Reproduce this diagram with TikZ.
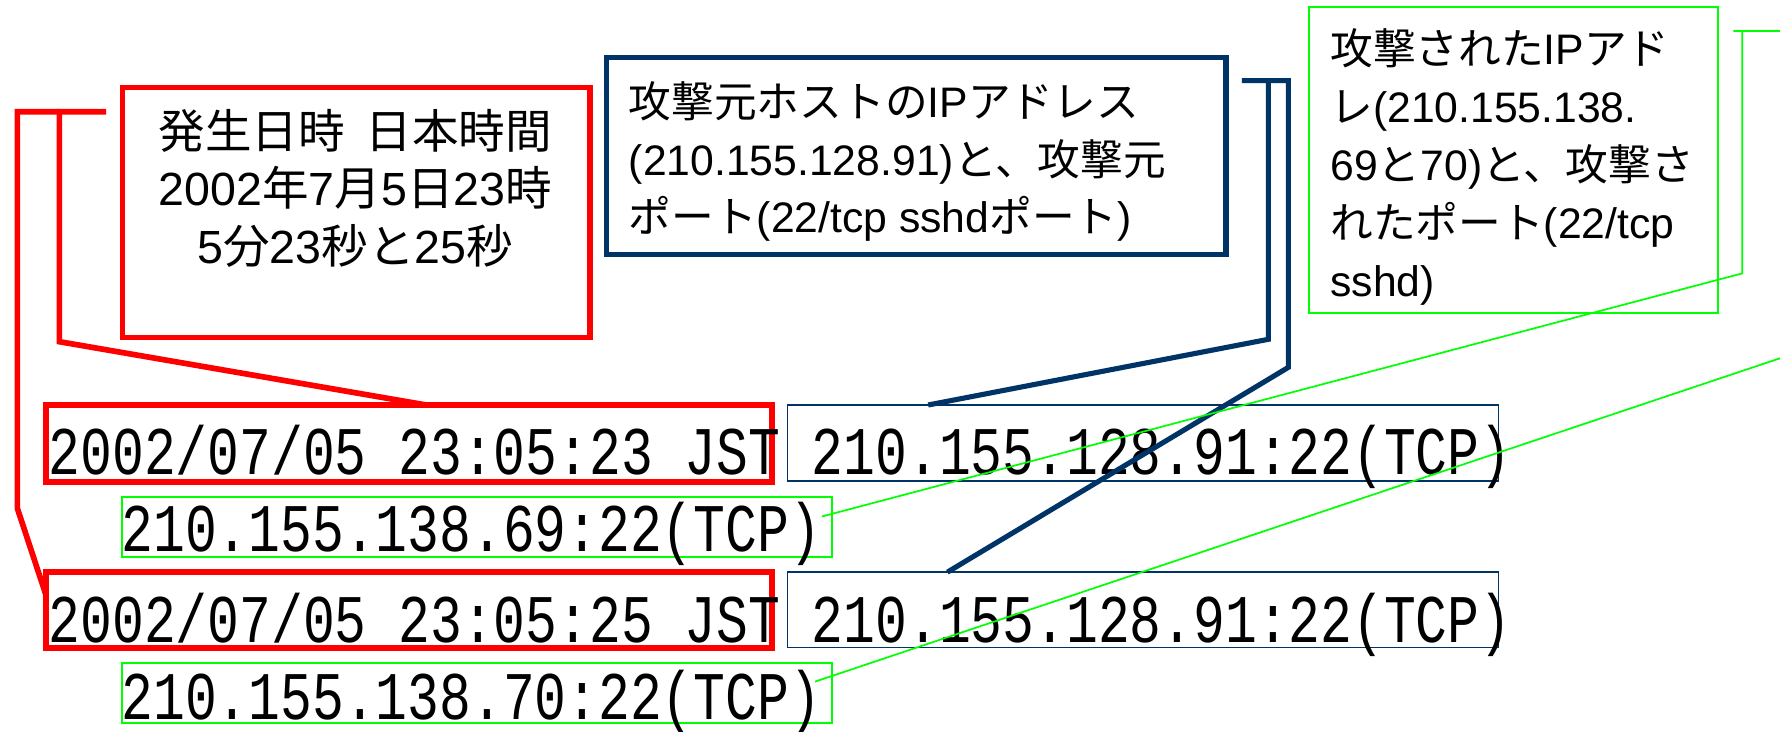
\documentclass[tikz,border=0pt]{standalone}
\usepackage{fontspec}
\usetikzlibrary{calc}
\setmainfont{Liberation Sans}
\newfontfamily\cjk{Noto Sans CJK JP}
\newfontfamily\logfont[FakeStretch=0.778]{Liberation Mono}
\newcommand{\J}[1]{{\cjk #1}}
\definecolor{lnred}{RGB}{255,0,0}
\definecolor{lnnavy}{RGB}{0,51,102}
\definecolor{lngreen}{RGB}{0,255,0}
\begin{document}
\begin{tikzpicture}[x=1pt,y=-1pt,
  every node/.style={inner sep=0pt, outer sep=0pt},
  redframe/.style={draw=lnred, line width=5pt},
  navyframe/.style={draw=lnnavy, line width=4.5pt},
  greenframe/.style={draw=lngreen, line width=1.8pt},
  navythin/.style={draw=lnnavy, line width=1.3pt},
  greenthin/.style={draw=lngreen, line width=1.5pt},
  redlink/.style={draw=lnred, line width=5pt},
  navylink/.style={draw=lnnavy, line width=4.5pt},
  greenlink/.style={draw=lngreen, line width=1.5pt},
  logtext/.style={font=\logfont\fontsize{60}{60}\selectfont, anchor=base west},
  timetext/.style={font=\fontsize{41}{50}\selectfont, anchor=base},
  labeltext/.style={font=\fontsize{37.6}{50}\selectfont, anchor=base west},
]
\useasboundingbox (0,0) rectangle (1568,644);
\fill[white] (0,0) rectangle (1568,644);

% label boxes
\node[redframe, minimum width=412, minimum height=220] (timebox) at (314,187.2) {};
\node[navyframe, minimum width=546, minimum height=174] (srcbox) at (807,137.5) {};
\node[greenframe, minimum width=360, minimum height=269.5] (dstbox) at (1333,141.25) {};

% label texts
\node[timetext] (time1) at (313,130.5) {\J{発生日時}\hspace{0.45em}\J{日本時間}};
\node[timetext] (time2) at (313,181.2) {2002\J{年}7\J{月}5\J{日}23\J{時}};
\node[timetext] (time3) at (313,232) {5\J{分}23\J{秒と}25\J{秒}};

\node[labeltext] (src1) at (554,103.5) {\J{攻撃元ホストの}IP\J{アドレス}};
\node[labeltext] (src2) at (554,154.2) {(210.155.128.91)\J{と、攻撃元}};
\node[labeltext] (src3) at (554,205) {\J{ポート}(22/tcp sshd\J{ポート})};

\node[labeltext] (dst1) at (1172,56.5) {\J{攻撃された}IP\J{アド}};
\node[labeltext] (dst2) at (1172,107.7) {\J{レ}(210.155.138.};
\node[labeltext] (dst3) at (1172,158.9) {69\J{と}70)\J{と、攻撃さ}};
\node[labeltext] (dst4) at (1172,210.1) {\J{れたポート}(22/tcp};
\node[labeltext] (dst5) at (1172,261.3) {sshd)};

% log row frames
\node[redframe, minimum width=639.6, minimum height=67.6] (tsA) at (360.2,390.8) {};
\node[redframe, minimum width=639.6, minimum height=67.4] (tsB) at (360.2,537.3) {};
\node[navythin, minimum width=626.4, minimum height=67] (srcA) at (1006.8,390.25) {};
\node[navythin, minimum width=626.4, minimum height=66.5] (srcB) at (1006.8,537.25) {};
\node[greenthin, minimum width=625.3, minimum height=53] (dstA) at (420.35,464) {};
\node[greenthin, minimum width=625.3, minimum height=53] (dstB) at (420.35,610.5) {};

% log rows
\node[logtext] (log1) at (43,418) {2002/07/05 23:05:23 JST 210.155.128.91:22(TCP)};
\node[logtext] (log2) at (107,486) {210.155.138.69:22(TCP)};
\node[logtext] (log3) at (43,566) {2002/07/05 23:05:25 JST 210.155.128.91:22(TCP)};
\node[logtext] (log4) at (107,634) {210.155.138.70:22(TCP)};

% bracket coordinates
\coordinate (rtop) at (93.4,98.4);
\coordinate (rin) at (52.3,98.4);
\coordinate (rinb) at (52.3,301);
\coordinate (rout) at (15.3,98.4);
\coordinate (routb) at (15.3,447.8);
\coordinate (ntop) at (1094,71);
\coordinate (nin) at (1117.3,71);
\coordinate (ninb) at (1117.3,298.9);
\coordinate (nout) at (1134.9,71);
\coordinate (noutb) at (1134.9,323.6);
\coordinate (gtl) at (1527,27.3);
\coordinate (gj) at (1534.8,27.3);
\coordinate (gjb) at (1534.8,240.8);
\coordinate (gedge) at (1568,27.3);
\coordinate (gedge2) at (1568,315.6);

% connectors
\draw[redlink] (rtop) -- (rin) -- (rinb) -- ($(tsA.north west)!0.526!(tsA.north east)$);
\draw[redlink] (rin) -- (rout) -- (routb) -- ($(tsB.north west)!0.3!(tsB.south west)$);
\draw[navylink] (ntop) -- (nin) -- (ninb) -- ($(srcA.north west)!0.198!(srcA.north east)$);
\draw[navylink] (nin) -- (nout) -- (noutb) -- ($(srcB.north west)!0.225!(srcB.north east)$);
\draw[greenlink] (gtl) -- (gj) -- (gjb) -- ($(dstA.north east)!0.33!(dstA.south east)+(-9,0)$);
\draw[greenlink] (gj) -- (gedge);
\draw[greenlink] (gedge2) -- ($(dstB.north east)!0.31!(dstB.south east)+(-15,0)$);
\end{tikzpicture}
\end{document}
